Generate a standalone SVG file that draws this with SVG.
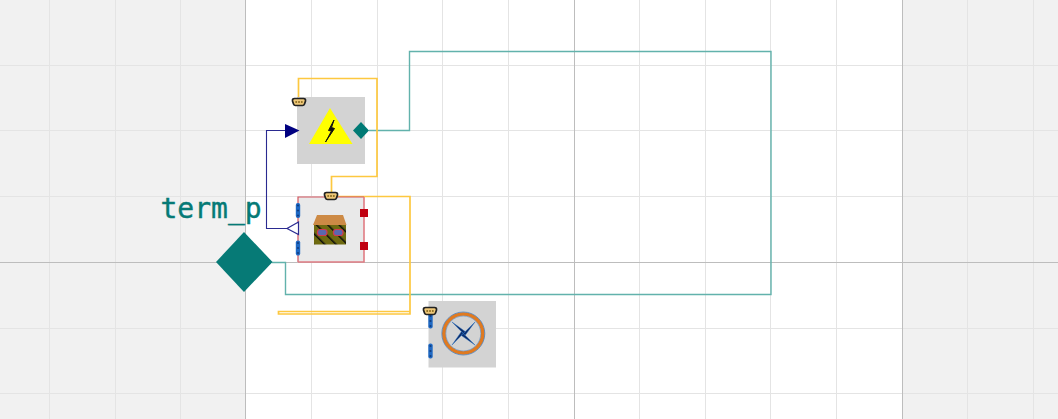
<svg xmlns="http://www.w3.org/2000/svg" width="1058" height="419" viewBox="0 0 1058 419">
<style>
.g{stroke:#e4e4e4;stroke-width:1;fill:none}
.m{stroke:#bdbdbd;stroke-width:1;fill:none}
.y{stroke:#fdc840;stroke-width:1.7;fill:none}
.t{stroke:#62b2ac;stroke-width:1.4;fill:none}
.b{stroke:#2a2a90;stroke-width:1.1;fill:none}
.bus{fill:#1f69c4;stroke:#134a90;stroke-width:.7}
.hole{fill:#123f80}
.conn{fill:#efc878;stroke:#222;stroke-width:1.700}
.dot{fill:#8a6a20}
</style>
<defs>
<g id="busv"><rect x="-2.200" y="-7.500" width="4.400" height="15" rx="2" fill="#1f69c4"/><circle cy="-5" r="1.100" class="hole"/><circle r="1.100" class="hole"/><circle cy="5" r="1.100" class="hole"/></g>
<g id="plug"><path d="M-4.500 -3.500H4.500Q6.800 -3.500 6.500 -1L5.500 2Q5 3.500 3.500 3.500H-3.500Q-5 3.500 -5.500 2L-6.500 -1Q-6.800 -3.500 -4.500 -3.500Z" class="conn"/><circle cx="-2.800" r="1" class="dot"/><circle r="1" class="dot"/><circle cx="2.800" r="1" class="dot"/></g>
<pattern id="hatch" width="8" height="8" patternUnits="userSpaceOnUse" patternTransform="rotate(-45)"><rect width="8" height="8" fill="#6e6a10"/><rect width="1.500" height="8" fill="#0c0c0c"/></pattern>
</defs>
<rect width="1058" height="419" fill="#fff"/>
<g id="background">
<rect x="0" y="0" width="246" height="419" fill="#f1f1f1"/>
<rect x="902" y="0" width="156" height="419" fill="#f1f1f1"/>
<path class="g" d="M49.500 0V419M115.500 0V419M180.500 0V419M311.500 0V419M377.500 0V419M442.500 0V419M508.500 0V419M639.500 0V419M705.500 0V419M770.500 0V419M836.500 0V419M967.500 0V419M1033.500 0V419M0 65.500H1058M0 130.500H1058M0 196.500H1058M0 328.500H1058M0 393.500H1058"/>
<path class="m" d="M245.500 0V419M574.500 0V419M902.500 0V419M0 262.500H1058"/>
</g>
<g id="connectors">
<path class="t" d="M369 130.500H409.500V51.500H771V294.500H285.500V262.500H272"/>
<path class="b" d="M286 130.500H266.500V228.500H288"/>
<path class="y" d="M298.500 98V78.500H377V176.500H331.500V192"/>
<path class="y" d="M337 196.500H410V314H278.500V311.500H410"/>
</g>
<g id="term_p">
<path d="M244 232L272.500 262L244 292L216 262Z" fill="#067a76"/>
<text x="160.500" y="218" font-family="'DejaVu Sans Mono',monospace" font-size="28" fill="#067a76" stroke="#067a76" stroke-width=".4">term_p</text>
</g>
<g id="node_source">
<rect x="297" y="97" width="68" height="67" fill="#d3d3d3"/>
<path d="M330 108L352.500 144H309Z" fill="#ffff00"/>
<path d="M334 120L328.500 130.500L331.500 131L325.500 142L334.500 128.500L331.500 127.500Z" fill="#111" stroke="#111" stroke-width="1"/>
<path d="M361 122L369 130.500L361 139L353 130.500Z" fill="#007a75"/>
<path d="M285 124L299.500 130.500L285 138Z" fill="#000080"/>
<use href="#plug" x="299" y="102"/>
</g>
<g id="node_building">
<rect x="298" y="197" width="66" height="65" fill="#e9e9e9"/>
<path d="M298 262V197H364" fill="none" stroke="#d2545e" stroke-width="1.200"/>
<path d="M364 197V262H298" fill="none" stroke="#e07c84" stroke-width="1.600"/>
<path d="M313 225L317 215H343L346.500 225Z" fill="#cd8a45"/>
<rect x="314" y="225" width="32" height="19.500" fill="url(#hatch)"/>
<rect x="317.500" y="229.500" width="9.500" height="6" rx="2.500" fill="#5a68b0" stroke="#d03a50" stroke-width="1.200"/>
<rect x="333.500" y="229.500" width="9.500" height="6" rx="2.500" fill="#5a68b0" stroke="#d03a50" stroke-width="1.200"/>
<rect x="360" y="209" width="8" height="8" fill="#c00010"/>
<rect x="360" y="242" width="8" height="8" fill="#c00010"/>
<use href="#busv" x="298" y="210.500"/>
<use href="#busv" x="298" y="248"/>
<path d="M298.500 222L287 228.500L298.500 234.500Z" fill="#fff" stroke="#2a2a90" stroke-width="1.200"/>
<use href="#plug" x="331" y="196"/>
</g>
<g id="node_turbine">
<rect x="428.500" y="301" width="67.500" height="66.500" fill="#d3d3d3"/>
<circle cx="463.300" cy="333.500" r="19.500" fill="#d3d3d3" stroke="#e07a20" stroke-width="3.600"/>
<circle cx="463.300" cy="333.500" r="21.500" fill="none" stroke="#3a78c0" stroke-width=".7"/>
<circle cx="463.300" cy="333.500" r="17.500" fill="none" stroke="#3a78c0" stroke-width=".5"/>
<path d="M452 322L465.500 331.800L463.300 333.500ZM475 322L465 335.500L463.300 333.500ZM475 345L461 335.200L463.300 333.500ZM452 345L461.500 331.500L463.300 333.500Z" fill="#0a2a68" stroke="#2a70c0" stroke-width=".5"/>
<use href="#busv" x="430.500" y="321"/>
<use href="#busv" x="430.500" y="351"/>
<use href="#plug" x="430" y="311"/>
</g>
</svg>
